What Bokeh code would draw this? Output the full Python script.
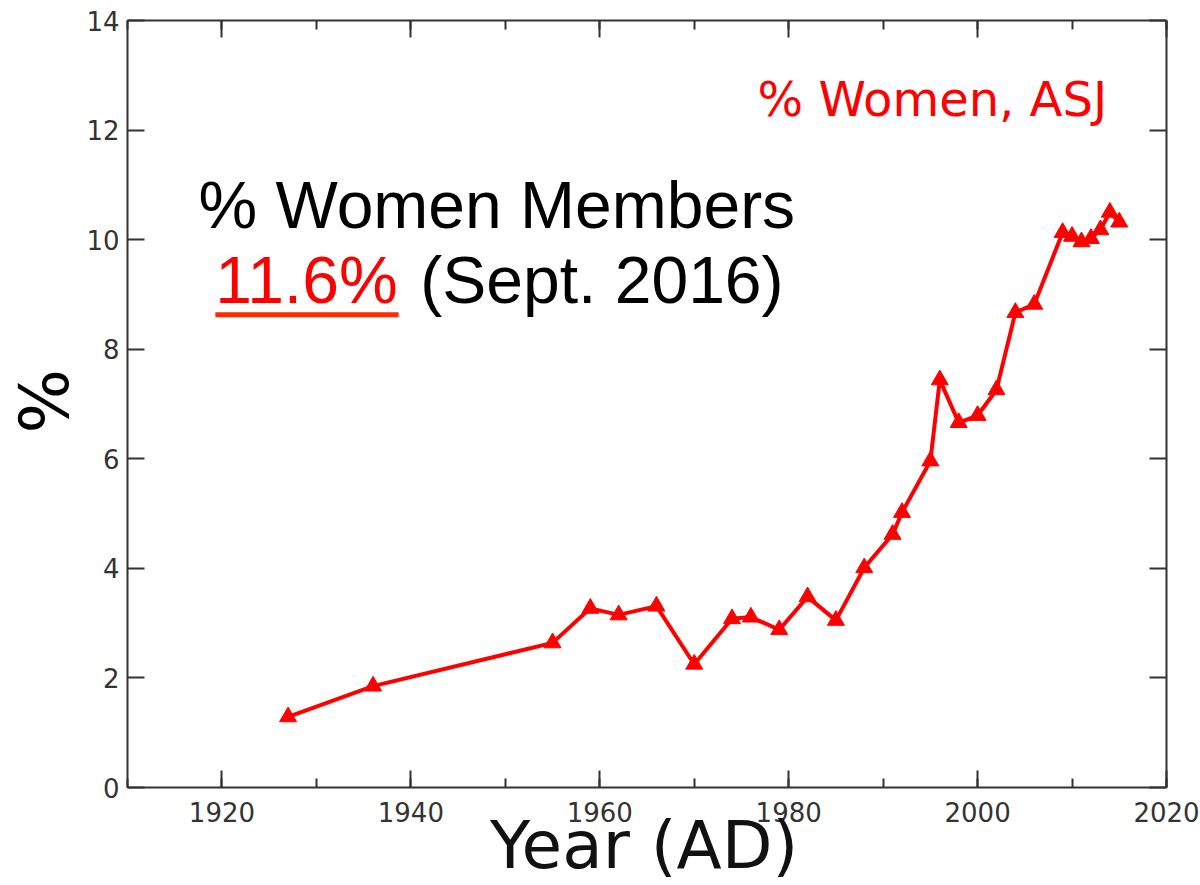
import math
from bokeh.plotting import figure
from bokeh.models import (LinearAxis, SingleIntervalTicker, Label,
                          CustomJSTickFormatter, ColumnDataSource)
from bokeh.embed import file_html
from bokeh.resources import INLINE

# ---- data ----
years = [1927, 1936, 1955, 1959, 1962, 1966, 1970, 1974, 1976, 1979,
         1982, 1985, 1988, 1991, 1992, 1995, 1996, 1998, 2000, 2002,
         2004, 2006, 2009, 2010, 2011, 2012, 2013, 2014, 2015]
pct_women = [1.29, 1.85, 2.64, 3.27, 3.15, 3.31, 2.25, 3.08, 3.11, 2.88,
             3.48, 3.05, 4.01, 4.62, 5.02, 5.96, 7.44, 6.66, 6.79, 7.26,
             8.67, 8.82, 10.13, 10.06, 9.96, 10.02, 10.18, 10.50, 10.32]

x_title = "Year (AD)"
y_title = "%"
series_label = "% Women, ASJ"
note_line1 = "% Women Members"
note_value = "11.6%"
note_date = "(Sept. 2016)"

AXIS_COLOR = "#333333"
RED = "#ff0000"

# axes box: years 1910-2020, percent 0-14; the plot area is widened so the
# axis box sits 127px from the left, 34px from the right, 20px from the top
# and 98px from the bottom of the 1200x885 picture.
W, H = 1200, 885
X0, X1, Y0, Y1 = 1910, 2020, 0, 14
px_x = (W - 127 - 34) / (X1 - X0)
px_y = (H - 20 - 98) / (Y1 - Y0)
x_range = (X0 - 127 / px_x, X1 + 34 / px_x)
y_range = (Y0 - 98 / px_y, Y1 + 20 / px_y)

src = ColumnDataSource(dict(year=years, pct=pct_women))

p = figure(width=W, height=H, x_range=x_range, y_range=y_range,
           output_backend="svg", toolbar_location=None,
           min_border=0, background_fill_color="white",
           border_fill_color="white")
p.grid.visible = False
p.outline_line_color = None

xticker = SingleIntervalTicker(interval=20, num_minor_ticks=2)
yticker = SingleIntervalTicker(interval=2, num_minor_ticks=0)

def style_axis(ax, ticker, minor_in, loc, bounds):
    ax.ticker = ticker
    ax.fixed_location = loc
    ax.bounds = bounds
    ax.axis_line_color = AXIS_COLOR
    ax.axis_line_width = 2
    ax.major_tick_line_color = AXIS_COLOR
    ax.major_tick_line_width = 2
    ax.minor_tick_line_color = AXIS_COLOR
    ax.minor_tick_line_width = 2
    ax.major_tick_in = 17
    ax.major_tick_out = 0
    ax.minor_tick_in = minor_in
    ax.minor_tick_out = 0
    ax.major_label_text_font = "DejaVu Sans"
    ax.major_label_text_font_size = "26px"
    ax.major_label_text_color = AXIS_COLOR

xa = p.xaxis[0]
style_axis(xa, xticker, 9, Y0, (X0, X1))
xa.major_label_standoff = 14

ya = p.yaxis[0]
style_axis(ya, yticker, 0, X0, (Y0, Y1))
ya.major_label_standoff = 8

blank = CustomJSTickFormatter(code="return ''")
top = LinearAxis(formatter=blank)
style_axis(top, xticker, 9, Y1, (X0, X1))
top.major_label_standoff = 0
p.add_layout(top, "above")
right = LinearAxis(formatter=blank)
style_axis(right, yticker, 0, X1, (Y0, Y1))
right.major_label_standoff = 0
p.add_layout(right, "right")

# ---- series ----
p.line("year", "pct", source=src, line_color=RED, line_width=4)
p.scatter("year", "pct", source=src, marker="triangle", size=17,
          fill_color=RED, line_color=RED)

# ---- axis titles ----
p.add_layout(Label(x=1964.7, y=-1.06, text=x_title,
                   text_font="DejaVu Sans", text_font_size="66px",
                   text_color="#111111", text_align="center",
                   text_baseline="alphabetic"))
p.add_layout(Label(x=1901.2, y=7.05, text=y_title, angle=math.pi / 2,
                   text_font="DejaVu Sans", text_font_size="68px",
                   text_color="black", text_align="center",
                   text_baseline="middle"))

# ---- annotations ----
p.add_layout(Label(x=1976.7, y=12.56, text=series_label,
                   text_font="DejaVu Sans", text_font_size="48px",
                   text_color=RED, text_align="left",
                   text_baseline="alphabetic"))
p.add_layout(Label(x=1949.1, y=10.64, text=note_line1,
                   text_font="Liberation Sans", text_font_size="66px",
                   text_color="black", text_align="center",
                   text_baseline="alphabetic"))
p.add_layout(Label(x=1919.3, y=9.27, text=note_value,
                   text_font="Liberation Sans", text_font_size="66px",
                   text_color=RED, text_align="left",
                   text_baseline="alphabetic"))
p.add_layout(Label(x=1941.0, y=9.27, text=note_date,
                   text_font="Liberation Sans", text_font_size="66px",
                   text_color="black", text_align="left",
                   text_baseline="alphabetic"))
p.segment(x0=[1919.3], y0=[8.63], x1=[1938.7], y1=[8.63],
          line_color="#ff2a00", line_width=5)

open("out.html", "w").write(file_html(p, INLINE))
